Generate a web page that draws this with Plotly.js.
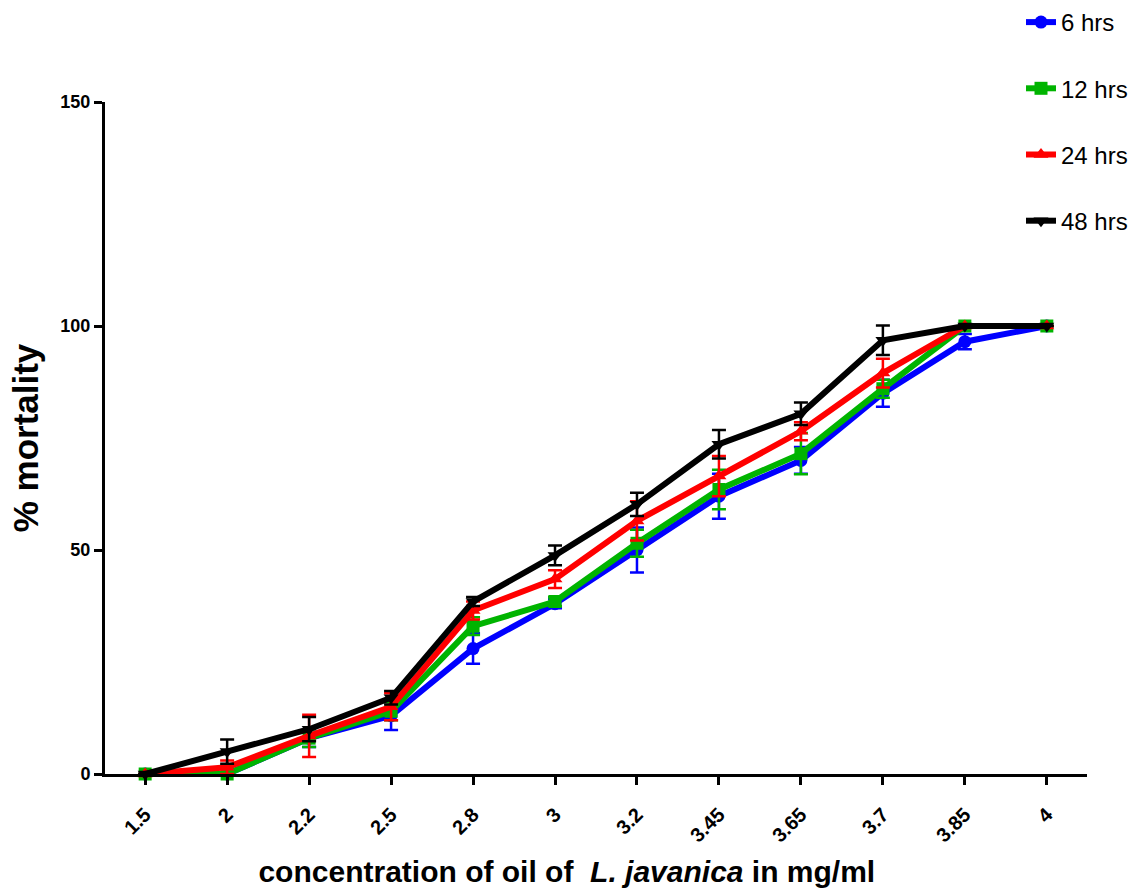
<!DOCTYPE html>
<html>
<head>
<meta charset="utf-8">
<script src="https://cdn.plot.ly/plotly-3.0.1.min.js"></script>
<style>html,body{margin:0;padding:0;background:#fff}#chart{width:1133px;height:888px}</style>
</head>
<body>
<div id="chart"></div>
<script>
var concentrations = ["1.5", "2", "2.2", "2.5", "2.8", "3", "3.2", "3.45", "3.65", "3.7", "3.85", "4"];

var mortality6h  = [0, 0, 8, 13, 28, 38, 50, 62, 70, 85, 96.5, 100];
var error6h      = [0, 0, 2, 3.2, 3.4, 1, 5, 5, 3, 3, 1.7, 0];

var mortality12h = [0, 0, 8, 14, 33, 38.5, 51.5, 63.5, 71.5, 86, 100, 100];
var error12h     = [0, 0, 2, 2, 2, 1, 3, 4.4, 4.6, 2, 0, 0];

var mortality24h = [0, 1.5, 8.5, 15, 36.5, 43.5, 56.5, 66.5, 76.5, 89.5, 100, 100];
var error24h     = [0, 1.5, 4.7, 3, 2, 2, 4.4, 4.5, 2, 3.2, 0, 0];

var mortality48h = [0, 5, 10, 17, 38.5, 48.8, 60.2, 73.6, 80.4, 96.8, 100, 100];
var error48h     = [0, 2.7, 2.7, 1.5, 1, 2.2, 2.6, 3.2, 2.5, 3.3, 0, 0];

var seriesNames  = ["6 hrs", "12 hrs", "24 hrs", "48 hrs"];
var seriesColors = ["#0000ff", "#00b400", "#ff0000", "#000000"];
var seriesSymbols = ["circle", "square", "triangle-up", "triangle-down"];
var seriesValues = [mortality6h, mortality12h, mortality24h, mortality48h];
var seriesErrors = [error6h, error12h, error24h, error48h];

var traces = seriesValues.map(function (vals, i) {
  return {
    x: concentrations,
    y: vals,
    type: "scatter",
    mode: "lines+markers",
    name: seriesNames[i],
    legendgroup: "g" + i,
    cliponaxis: false,
    line: {color: seriesColors[i], width: 6},
    marker: {color: seriesColors[i], symbol: seriesSymbols[i], size: 13},
    error_y: {type: "data", array: seriesErrors[i], visible: true,
              color: seriesColors[i], thickness: 2.5, width: 7}
  };
});

var layout = {
  width: 1133, height: 888,
  margin: {l: 105, r: 46, t: 102, b: 114, autoexpand: false},
  paper_bgcolor: "#ffffff", plot_bgcolor: "#ffffff",
  font: {family: "Liberation Sans, Arial, sans-serif", color: "#000"},
  showlegend: true,
  legend: {
    xref: "container", yref: "container",
    x: 1, xanchor: "right", y: 1, yanchor: "top",
    font: {size: 24, color: "#000"},
    tracegroupgap: 32,
    bgcolor: "rgba(0,0,0,0)"
  },
  xaxis: {
    type: "category",
    range: [-0.49, 11.49],
    automargin: false,
    showgrid: false, zeroline: false,
    showline: true, linecolor: "#000", linewidth: 3,
    ticks: "outside", ticklen: 8, tickwidth: 3, tickcolor: "#000",
    tickangle: -45,
    ticklabelstandoff: 10,
    tickfont: {size: 20, family: "Liberation Sans, Arial, sans-serif", weight: "bold"},
    title: {text: "concentration of oil of&nbsp;&nbsp;<i>L. javanica</i> in mg/ml&nbsp;&nbsp;&nbsp;&nbsp;&nbsp;&nbsp;&nbsp;",
            font: {size: 30, weight: "bold"}, standoff: 22}
  },
  yaxis: {
    range: [0, 150],
    automargin: false,
    tickvals: [0, 50, 100, 150],
    showgrid: false, zeroline: false,
    showline: true, linecolor: "#000", linewidth: 3,
    ticks: "outside", ticklen: 8, tickwidth: 3, tickcolor: "#000",
    tickfont: {size: 18, family: "Liberation Sans, Arial, sans-serif", weight: "bold"},
    title: {text: "% mortality", font: {size: 35, weight: "bold"}, standoff: 12}
  }
};

Plotly.newPlot("chart", traces, layout, {displayModeBar: false, staticPlot: true});
</script>
</body>
</html>
